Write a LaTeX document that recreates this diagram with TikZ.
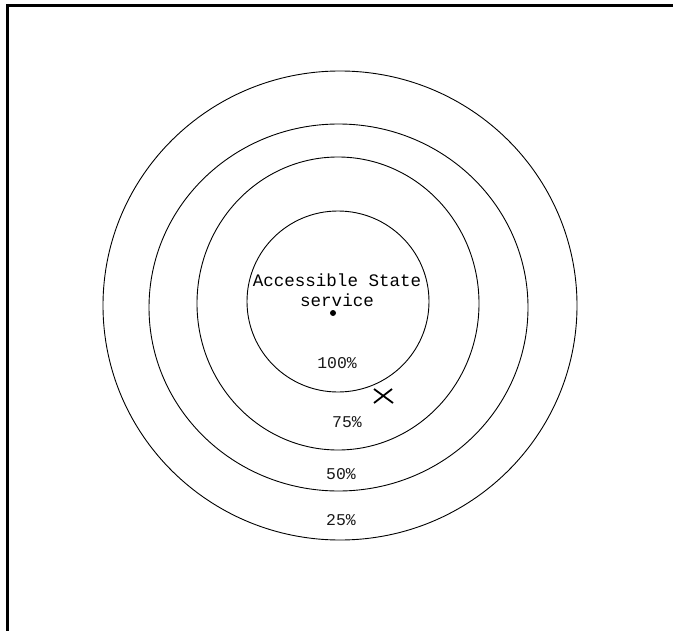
\documentclass[tikz,border=0pt]{standalone}
\usepackage{fontspec}
\setmonofont{Liberation Mono}
\tikzset{
  ring/.style={draw=black, line width=0.9bp},
  lbl/.style={font=\ttfamily\fontsize{17.6}{19}\selectfont, inner sep=0pt, text=black},
  pct/.style={font=\ttfamily\fontsize{16.5}{18}\selectfont, inner sep=0pt, text=black!90},
  frameline/.style={draw=black, line width=2.2bp},
  xmark/.style={draw=black, line width=1.8bp}
}
\begin{document}
\begin{tikzpicture}[x=1bp,y=-1bp]
\useasboundingbox (0,0) rectangle (673,631);
\fill[white] (0,0) rectangle (673,631);
% frame (top and left edges)
\draw[frameline] (7.5,631) -- (7.5,5.5) -- (673,5.5);
% rings
\draw[ring] (340,305.5) ellipse [x radius=237, y radius=234.5];
\draw[ring] (338.5,307.5) ellipse [x radius=189.5, y radius=183.5];
\draw[ring] (338,303.5) ellipse [x radius=141, y radius=146.5];
\draw[ring] (338,301.5) ellipse [x radius=91, y radius=90.5];
% texts
\node[lbl] (title) at (337,280) {Accessible State};
\node[lbl] (svc) at (337,300) {service};
\fill (333,313) circle [radius=3];
\node[pct] (p100) at (337,363) {100\%};
\node[pct] (p75) at (347,422) {75\%};
\node[pct] (p50) at (341,474) {50\%};
\node[pct] (p25) at (341,520) {25\%};
% cross
\coordinate (xa) at (374,389);
\coordinate (xb) at (393,403);
\coordinate (xc) at (374,403);
\coordinate (xd) at (392,389);
\draw[xmark] (xa) -- (xb);
\draw[xmark] (xc) -- (xd);
\end{tikzpicture}
\end{document}
